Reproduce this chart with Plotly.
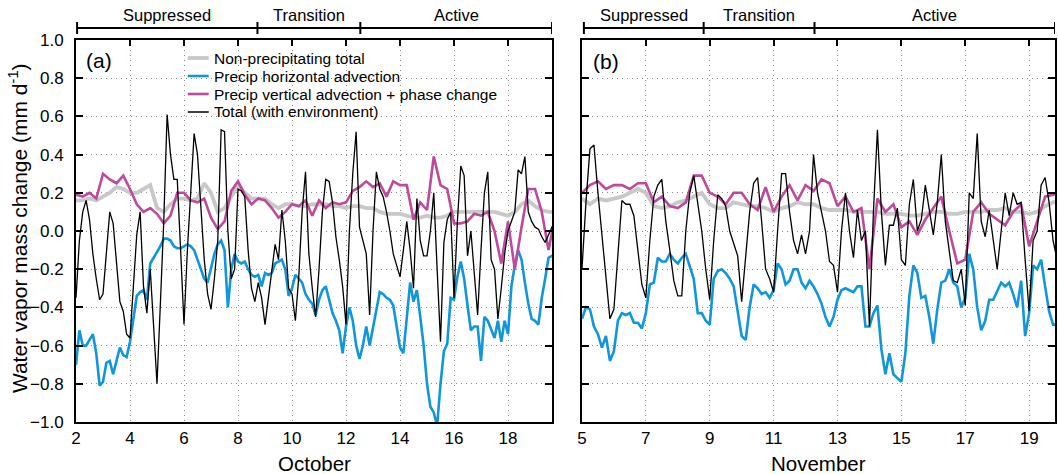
import plotly.graph_objects as go

# ---------------------------------------------------------------------------
# Time axes: day of month. Smooth budget terms are 6-hourly, the rest 3-hourly.
# ---------------------------------------------------------------------------
OCT_START = 2.0
NOV_START = 5.0
STEP_6H = 0.25
STEP_3H = 0.125

# October (panel a)
oct_nonprecip = [
    0.16, 0.16, 0.17, 0.16,
    0.18, 0.20, 0.23, 0.22,
    0.20, 0.20, 0.22, 0.24,
    0.12, 0.10, 0.14, 0.17,
    0.17, 0.16, 0.17, 0.25,
    0.20, 0.10, 0.12, 0.18,
    0.24, 0.20, 0.17, 0.17,
    0.17, 0.14, 0.12, 0.14,
    0.14, 0.13, 0.13, 0.14,
    0.14, 0.14, 0.13, 0.13,
    0.12, 0.13, 0.13, 0.12,
    0.12, 0.10, 0.09, 0.09,
    0.09, 0.08, 0.07, 0.07,
    0.08, 0.07, 0.07, 0.08,
    0.10, 0.10, 0.10, 0.10,
    0.10, 0.10, 0.10, 0.09,
    0.08, 0.10, 0.14, 0.16,
    0.13, 0.11, 0.10, 0.10,
]
oct_vert = [
    0.19, 0.18, 0.20, 0.17,
    0.30, 0.27, 0.25, 0.29,
    0.22, 0.14, 0.10, 0.12,
    0.09, 0.04, 0.08, 0.20,
    0.20, 0.16, 0.15, 0.17,
    0.07, 0.01, 0.05, 0.21,
    0.26, 0.19, 0.14, 0.17,
    0.16, 0.12, 0.07, 0.10,
    0.14, 0.13, 0.16, 0.08,
    0.16, 0.12, 0.15, 0.14,
    0.15, 0.21, 0.23, 0.26,
    0.23, 0.25, 0.18, 0.26,
    0.24, 0.24, 0.06, 0.15,
    0.11, 0.39, 0.24, 0.22,
    0.04, 0.04, 0.05, 0.09,
    0.08, 0.10, 0.00, -0.17,
    0.05, -0.20, 0.02, 0.22,
    0.22, 0.10, -0.10, 0.08,
]
oct_horiz = [
    -0.70, -0.52, -0.60, -0.60, -0.57, -0.54, -0.64, -0.81,
    -0.79, -0.69, -0.68, -0.75, -0.68, -0.61, -0.65, -0.66,
    -0.58, -0.45, -0.34, -0.32, -0.31, -0.36, -0.17, -0.14,
    -0.11, -0.08, -0.04, -0.04, -0.05, -0.08, -0.09, -0.09,
    -0.08, -0.07, -0.08, -0.10, -0.15, -0.20, -0.25, -0.27,
    -0.20, -0.12, -0.07, -0.05, -0.10, -0.40, -0.20, -0.12,
    -0.16, -0.17, -0.16, -0.20, -0.23, -0.24, -0.23, -0.29,
    -0.22, -0.23, -0.22, -0.17, -0.16, -0.15, -0.20, -0.34,
    -0.30, -0.23, -0.25, -0.27, -0.33, -0.36, -0.38, -0.44,
    -0.36, -0.31, -0.29, -0.36, -0.43, -0.47, -0.52, -0.64,
    -0.50, -0.40, -0.47, -0.60, -0.67, -0.60, -0.50, -0.60,
    -0.50, -0.41, -0.32, -0.33, -0.35, -0.36, -0.39, -0.50,
    -0.61, -0.64, -0.45, -0.27, -0.37, -0.31, -0.45, -0.60,
    -0.80, -0.92, -0.95, -1.02, -0.80, -0.63, -0.59, -0.35,
    -0.36, -0.24, -0.16, -0.25, -0.39, -0.52, -0.50, -0.50,
    -0.68, -0.45, -0.47, -0.52, -0.56, -0.47, -0.58, -0.47,
    -0.54, -0.29, -0.18, -0.10, -0.15, -0.27, -0.38, -0.46,
    -0.47, -0.49, -0.35, -0.25, -0.14, -0.13, -0.13,
]
oct_total = [
    -0.35, -0.05, 0.10, 0.16, 0.06, -0.12, -0.25, -0.36,
    -0.33, -0.10, 0.10, 0.04, -0.15, -0.37, -0.42, -0.54,
    -0.56, -0.30, -0.02, 0.10, -0.29, -0.43, -0.20, -0.50,
    -0.80, -0.38, 0.05, 0.61, 0.40, 0.27, 0.27, -0.10,
    -0.49, -0.10, 0.20, 0.51, 0.40, 0.10, -0.15, -0.33,
    -0.41, -0.25, -0.05, 0.53, 0.52, 0.00, -0.25, -0.20,
    0.22, 0.21, 0.18, -0.10, -0.30, -0.37, -0.27, -0.35,
    -0.49, -0.35, -0.20, -0.07, -0.15, 0.11, -0.05, -0.30,
    -0.33, -0.47, -0.24, 0.10, 0.31, -0.12, -0.30, -0.45,
    -0.20, 0.10, 0.27, 0.26, 0.15, -0.03, -0.15, -0.29,
    -0.49, 0.00, 0.30, 0.52, 0.02, -0.05, -0.12, -0.44,
    0.00, 0.31, 0.22, 0.18, 0.10, 0.00, -0.12, -0.18,
    -0.24, -0.10, 0.05, -0.10, -0.30, 0.17, -0.05, -0.13,
    -0.13, 0.00, 0.20, -0.20, -0.58, -0.06, 0.06, 0.10,
    -0.35, 0.05, 0.34, 0.29, -0.13, 0.00, -0.20, -0.44,
    -0.10, 0.20, 0.31, -0.15, -0.20, -0.46, -0.30, -0.12,
    0.00, 0.05, 0.10, 0.32, 0.30, 0.39, 0.10, 0.05,
    0.02, 0.01, -0.03, -0.06, -0.02, 0.02, 0.00,
]

# November (panel b)
nov_nonprecip = [
    0.17, 0.14, 0.17, 0.16,
    0.17, 0.18, 0.20, 0.22,
    0.20, 0.13, 0.12, 0.13,
    0.15, 0.16, 0.18, 0.20,
    0.14, 0.12, 0.12, 0.15,
    0.14, 0.13, 0.13, 0.12,
    0.10, 0.12, 0.13, 0.15,
    0.14, 0.14, 0.12, 0.11,
    0.11, 0.11, 0.10, 0.10,
    0.10, 0.10, 0.09, 0.09,
    0.09, 0.08, 0.08, 0.09,
    0.10, 0.10, 0.09, 0.09,
    0.10, 0.10, 0.10, 0.11,
    0.11, 0.12, 0.10, 0.10,
    0.09, 0.10, 0.13, 0.15,
    0.16,
]
nov_vert = [
    0.20, 0.24, 0.26, 0.22,
    0.24, 0.24, 0.22, 0.25,
    0.25, 0.15, 0.18, 0.13,
    0.12, 0.15, 0.29, 0.29,
    0.20, 0.18, 0.14, 0.20,
    0.20, 0.14, 0.11, 0.23,
    0.10, 0.18, 0.24, 0.16,
    0.24, 0.21, 0.27, 0.25,
    0.13, 0.18, 0.10, 0.12,
    -0.20, 0.17, 0.10, 0.14,
    0.02, 0.05, -0.02, 0.06,
    0.12, 0.18, 0.00, -0.17,
    -0.15, 0.10, 0.15, 0.09,
    0.06, 0.03, 0.10, 0.14,
    -0.08, 0.05, 0.18, 0.19,
    0.20,
]
nov_horiz = [
    -0.46, -0.40, -0.41, -0.50, -0.54, -0.61, -0.55, -0.68,
    -0.63, -0.47, -0.43, -0.44, -0.43, -0.48, -0.48, -0.51,
    -0.43, -0.28, -0.27, -0.14, -0.16, -0.16, -0.12, -0.15,
    -0.17, -0.14, -0.12, -0.18, -0.25, -0.43, -0.43, -0.47,
    -0.49, -0.25, -0.21, -0.20, -0.22, -0.25, -0.29, -0.42,
    -0.55, -0.57, -0.40, -0.28, -0.30, -0.33, -0.32, -0.35,
    -0.31, -0.17, -0.20, -0.28, -0.26, -0.20, -0.20, -0.27,
    -0.30, -0.26, -0.29, -0.33, -0.38, -0.45, -0.50, -0.45,
    -0.36, -0.31, -0.30, -0.31, -0.32, -0.29, -0.29, -0.50,
    -0.50, -0.43, -0.39, -0.62, -0.75, -0.64, -0.75, -0.77,
    -0.79, -0.64, -0.34, -0.18, -0.22, -0.35, -0.34, -0.45,
    -0.59, -0.41, -0.27, -0.26, -0.20, -0.27, -0.29, -0.40,
    -0.35, -0.12, -0.20, -0.40, -0.52, -0.47, -0.36, -0.36,
    -0.31, -0.27, -0.29, -0.27, -0.33, -0.40, -0.26, -0.55,
    -0.43, -0.18, -0.20, -0.15, -0.29, -0.42, -0.49, -0.49,
]
nov_total = [
    -0.20, 0.15, 0.43, 0.45, 0.20, -0.02, -0.20, -0.46,
    -0.41, -0.10, 0.16, 0.14, 0.14, 0.08, -0.10, -0.28,
    -0.35, -0.05, 0.18, 0.24, 0.27, 0.05, -0.10, -0.26,
    -0.34, -0.34, 0.00, 0.20, 0.29, 0.15, 0.00, -0.20,
    -0.36, -0.05, 0.19, 0.17, 0.13, 0.00, -0.06, -0.13,
    -0.37, -0.12, 0.10, 0.25, 0.28, 0.05, -0.20, -0.25,
    -0.32, 0.00, 0.30, 0.30, 0.10, -0.05, -0.12, -0.02,
    -0.12, 0.00, 0.40, 0.20, 0.10, 0.00, -0.16, -0.18,
    -0.32, 0.00, 0.20, 0.00, -0.14, 0.11, -0.05, 0.00,
    -0.50, 0.10, 0.53, 0.10, -0.18, 0.03, 0.03, 0.12,
    -0.15, -0.18, 0.14, 0.27, 0.00, 0.06, 0.24, 0.10,
    -0.02, 0.15, 0.40, 0.05, -0.12, -0.26, -0.27, -0.20,
    -0.39, 0.20, 0.17, 0.51, 0.05, -0.03, 0.11, -0.05,
    -0.20, 0.00, 0.20, 0.08, 0.20, 0.14, 0.15, -0.15,
    -0.42, -0.05, 0.00, 0.24, 0.28, 0.15, -0.05, -0.15,
]

# Convective phases (day boundaries) shown above each panel
phase_names = ["Suppressed", "Transition", "Active"]
oct_phase_bounds = [2.04, 8.72, 12.53, 19.63]
nov_phase_bounds = [5.06, 8.81, 12.28, 19.81]

OCT_RANGE = [2.0, 19.63]
NOV_RANGE = [5.0, 19.81]
Y_RANGE = [-1.0, 1.0]

series_names = [
    "Non-precipitating total",
    "Precip horizontal advection",
    "Precip vertical advection + phase change",
    "Total (with environment)",
]
series_colors = ["#c8c8c8", "#1196dc", "#bd4a9a", "#000000"]
series_widths = [3.8, 2.6, 2.6, 1.3]

FONT = "Liberation Sans, Arial, Helvetica, sans-serif"


def times(start, step, values):
    return [start + i * step for i in range(len(values))]


panels = [
    ("x", "y", OCT_START, [oct_nonprecip, oct_horiz, oct_vert, oct_total]),
    ("x2", "y2", NOV_START, [nov_nonprecip, nov_horiz, nov_vert, nov_total]),
]
steps = [STEP_6H, STEP_3H, STEP_6H, STEP_3H]

fig = go.Figure()
for xa, ya, start, data in panels:
    for name, color, width, step, vals in zip(series_names, series_colors,
                                              series_widths, steps, data):
        fig.add_trace(go.Scatter(
            x=times(start, step, vals), y=vals, mode="lines", name=name,
            line=dict(color=color, width=width), xaxis=xa, yaxis=ya,
            showlegend=False, hoverinfo="skip",
        ))

# Placeholder traces so the top tick-only axes get drawn
for xa, ya in [("x3", "y"), ("x4", "y2")]:
    fig.add_trace(go.Scatter(x=[None], y=[None], xaxis=xa, yaxis=ya,
                             showlegend=False, hoverinfo="skip"))

ML, MR, MT, MB = 76, 1, 40, 52
W, H = 1058, 474
PW = W - ML - MR
PH = H - MT - MB


def px_x(px):
    return (px - ML) / PW


def px_y(py):
    return (H - MB - py) / PH


tick_font = dict(family=FONT, size=17, color="black")
grid = dict(showgrid=True, gridcolor="#8a8a8a", griddash="1px,4px", gridwidth=1.2)

base_x = dict(showline=True, linewidth=2, linecolor="black", mirror=True,
              ticks="", zeroline=False, tickfont=tick_font, dtick=2,
              ticklabelstandoff=0, **grid)
top_x = dict(side="top", ticks="inside", ticklen=6, tickwidth=1.5,
             tickcolor="black", showticklabels=False, showgrid=False,
             showline=False, zeroline=False, dtick=2)
base_y = dict(range=Y_RANGE, dtick=0.2, tickformat=".1f", showline=True,
              linewidth=2, linecolor="black", mirror="ticks", ticks="inside",
              ticklen=7, tickwidth=1.5, tickcolor="black", zeroline=False,
              tickfont=tick_font, ticklabelstandoff=7, **grid)

dom_a = [0, px_x(553)]
dom_b = [px_x(583), 1]

fig.update_layout(
    width=W, height=H,
    margin=dict(l=ML, r=MR, t=MT, b=MB),
    paper_bgcolor="white", plot_bgcolor="white",
    font=dict(family=FONT, color="black"),
    showlegend=False,
    xaxis=dict(domain=dom_a, range=OCT_RANGE, tick0=OCT_START, anchor="y", **base_x),
    xaxis2=dict(domain=dom_b, range=NOV_RANGE, tick0=NOV_START, anchor="y2", **base_x),
    xaxis3=dict(overlaying="x", anchor="y", range=OCT_RANGE, tick0=OCT_START, **top_x),
    xaxis4=dict(overlaying="x2", anchor="y2", range=NOV_RANGE, tick0=NOV_START, **top_x),
    yaxis=dict(domain=[0, 1], anchor="x", **base_y),
    yaxis2=dict(domain=[0, 1], anchor="x2", showticklabels=False,
                **{k: v for k, v in base_y.items() if k != "tickfont"}),
)

annotations = []
shapes = []

# Axis titles
annotations.append(dict(
    text="Water vapor mass change (mm d<sup>-1</sup>)", textangle=-90,
    xref="paper", yref="paper", x=px_x(18), y=px_y(228),
    xanchor="center", yanchor="middle", showarrow=False,
    font=dict(family=FONT, size=21)))
for xref, label in [("x domain", "October"), ("x2 domain", "November")]:
    annotations.append(dict(
        text=label, xref=xref, yref="paper", x=0.5, y=px_y(463),
        xanchor="center", yanchor="middle", showarrow=False,
        font=dict(family=FONT, size=20.5)))

# Panel tags
for xref, tag, px_off, py in [("x domain", "(a)", 23, 60), ("x2 domain", "(b)", 24, 61)]:
    width = dom_a[1] * PW if xref == "x domain" else (1 - dom_b[0]) * PW
    annotations.append(dict(
        text=tag, xref=xref, yref="paper", x=px_off / width, y=px_y(py),
        xanchor="center", yanchor="middle", showarrow=False,
        font=dict(family=FONT, size=21)))

# Phase bars above each panel
bar_y = px_y(28)
tick_lo, tick_hi = px_y(34), px_y(22)
for xref, bounds in [("x", oct_phase_bounds), ("x2", nov_phase_bounds)]:
    shapes.append(dict(type="line", xref=xref, yref="paper",
                       x0=bounds[0], x1=bounds[-1], y0=bar_y, y1=bar_y,
                       line=dict(color="black", width=2)))
    for b in bounds:
        shapes.append(dict(type="line", xref=xref, yref="paper",
                           x0=b, x1=b, y0=tick_lo, y1=tick_hi,
                           line=dict(color="black", width=2)))
    for name, lo, hi in zip(phase_names, bounds[:-1], bounds[1:]):
        annotations.append(dict(
            text=name, xref=xref, yref="paper", x=(lo + hi) / 2, y=px_y(15),
            xanchor="center", yanchor="middle", showarrow=False,
            font=dict(family=FONT, size=16.5)))

# Legend (compact rows inside panel a)
legend_rows = [58, 76, 94, 112]
for name, color, width, py in zip(series_names, series_colors, series_widths, legend_rows):
    shapes.append(dict(type="line", xref="paper", yref="paper",
                       x0=px_x(188), x1=px_x(209), y0=px_y(py), y1=px_y(py),
                       line=dict(color=color, width=max(width, 1.5))))
    annotations.append(dict(
        text=name, xref="paper", yref="paper", x=px_x(212), y=px_y(py),
        xanchor="left", yanchor="middle", showarrow=False,
        font=dict(family=FONT, size=15.5)))

fig.update_layout(annotations=annotations, shapes=shapes)

fig.write_html("out.html")
